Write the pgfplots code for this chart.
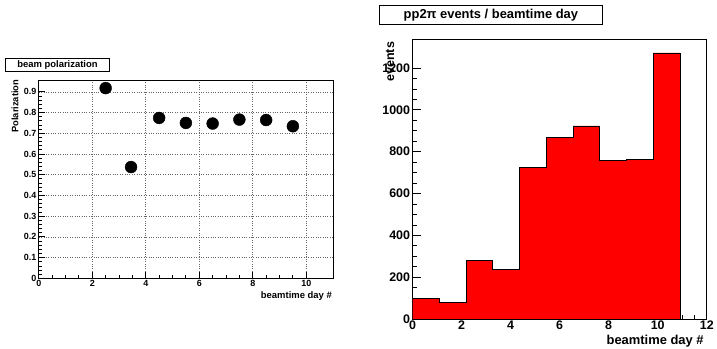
\documentclass[border=0pt]{standalone}
\usepackage{fontspec}
\setmainfont{Liberation Sans}
\usepackage{pgfplots}
\pgfplotsset{compat=1.18}
\begin{document}
\begin{tikzpicture}
\path (0pt,0pt) rectangle (717pt,-351pt);
% ---------- left: beam polarization ----------
\begin{axis}[
  at={(39pt,-280pt)}, anchor=south west, scale only axis,
  width=296pt, height=199.3pt,
  xmin=0, xmax=11, ymin=0, ymax=0.956,
  xtick={0,2,4,6,8,10},
  xticklabels={0,2,4,6,8,10},
  ytick={0,0.1,0.2,0.3,0.4,0.5,0.6,0.7,0.8,0.9},
  yticklabels={0,0.1,0.2,0.3,0.4,0.5,0.6,0.7,0.8,0.9},
  minor x tick num=3, minor y tick num=4,
  tick align=inside, xtick pos=bottom, ytick pos=left,
  major tick length=6pt, minor tick length=3pt,
  axis line style={line width=1pt}, tick style={line width=0.8pt, black},
  grid=major, major grid style={dotted, black!60, line width=0.6pt},
  tick label style={font=\bfseries\fontsize{9}{9}\selectfont},
  yticklabel style={xshift=1pt},
  xticklabel style={yshift=1.5pt},
]
\addplot[only marks, mark=*, mark size=6pt, black] coordinates {
 (2.5,0.918) (3.45,0.537) (4.5,0.774) (5.5,0.750) (6.5,0.747) (7.5,0.766) (8.5,0.764) (9.5,0.734)};
\end{axis}
\node[draw=black, line width=0.8pt, minimum width=104.3pt, minimum height=13.3pt, inner sep=0pt,
  font=\bfseries\fontsize{9.5}{9.5}\selectfont] at (57.85pt,-65.65pt) {beam polarization};
\node[rotate=90, anchor=east, inner sep=0pt, font=\bfseries\fontsize{9.4}{9.4}\selectfont] at (15pt,-80pt) {Polarization};
\node[anchor=east, inner sep=0pt, font=\bfseries\fontsize{9.5}{9.5}\selectfont] at (334pt,-298pt) {beamtime day \#};
% ---------- right: events per day ----------
\begin{axis}[
  at={(415pt,-321pt)}, anchor=south west, scale only axis,
  width=296pt, height=281pt,
  xmin=0, xmax=12, ymin=0, ymax=1335,
  xtick={0,2,4,6,8,10,12},
  xticklabels={0,2,4,6,8,10,12},
  ytick={0,200,400,600,800,1000,1200},
  yticklabels={0,200,400,600,800,1000,1200},
  minor x tick num=3, minor y tick num=3,
  tick align=inside, xtick pos=bottom, ytick pos=left,
  major tick length=9pt, minor tick length=4.5pt,
  axis line style={line width=1pt}, tick style={line width=0.8pt, black},
  tick label style={font=\bfseries\fontsize{12.5}{12.5}\selectfont},
  yticklabel style={xshift=1pt},
  xticklabel style={yshift=1.5pt},
]
\addplot[const plot, fill=red, draw=black, line width=0.8pt] coordinates {
 (0,100) (1.0909,81) (2.1818,279) (3.2727,238) (4.3636,725) (5.4545,868)
 (6.5455,923) (7.6364,760) (8.7273,765) (9.8182,1272) (10.9091,1272)} \closedcycle;
\end{axis}
\node[draw=black, line width=0.8pt, minimum width=224.3pt, minimum height=18.6pt, inner sep=0pt,
  font=\bfseries\fontsize{13}{13}\selectfont] at (493.85pt,-15pt) {pp2π events / beamtime day};
\node[rotate=90, anchor=east, inner sep=0pt, font=\bfseries\fontsize{12.6}{12.6}\selectfont] at (392.5pt,-42pt) {events};
\node[anchor=east, inner sep=0pt, font=\bfseries\fontsize{13}{13}\selectfont] at (708pt,-343pt) {beamtime day \#};
\end{tikzpicture}
\end{document}
